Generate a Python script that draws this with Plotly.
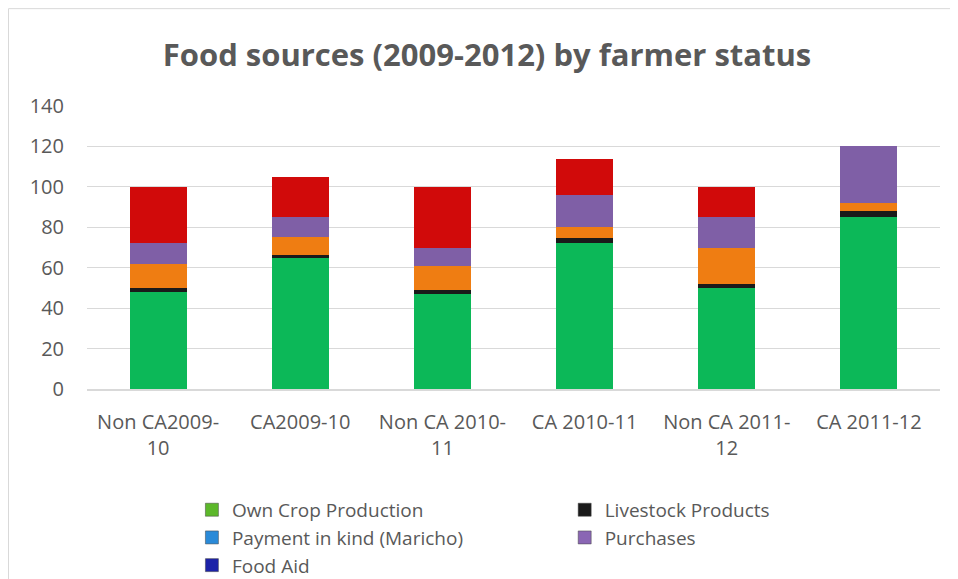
import plotly.graph_objects as go

categories = ["Non CA2009-<br>10", "CA2009-10", "Non CA 2010-<br>11", "CA 2010-11", "Non CA 2011-<br>12", "CA 2011-12"]
series_names = ["Own Crop Production", "Livestock Products", "Payment in kind (Maricho)", "Purchases", "Food Aid"]
own_crop = [48, 65, 47, 72, 50, 85]
livestock = [2, 1.5, 2, 2.5, 2, 3]
payment = [12, 8.5, 12, 5.5, 18, 4]
purchases = [10, 10, 9, 16, 15, 28]
food_aid = [28, 20, 30, 18, 15, 0]

values = [own_crop, livestock, payment, purchases, food_aid]
bar_colors = ["#0cb858", "#1a1a1a", "#ef7d12", "#7f5fa6", "#d10a0a"]
legend_colors = ["#5cb82a", "#1a1a1a", "#2a8ad8", "#8a66b4", "#1c22a8"]
legend_ids = ["legend", "legend2", "legend", "legend2", "legend"]

fig = go.Figure()
for name, vals, c in zip(series_names, values, bar_colors):
    fig.add_trace(go.Bar(x=categories, y=vals, name=name, showlegend=False,
                         marker=dict(color=c, line=dict(width=0)),
                         width=0.4))
for name, c, lg in zip(series_names, legend_colors, legend_ids):
    fig.add_trace(go.Scatter(x=[None], y=[None], mode="markers", name=name,
                             legend=lg,
                             marker=dict(symbol="square", size=13, color=c,
                                         line=dict(color="#444", width=0.5))))

legend_common = dict(orientation="v", yanchor="top", traceorder="normal",
                     font=dict(size=19, color="#595959", family="Open Sans"),
                     itemwidth=30, bgcolor="rgba(0,0,0,0)", tracegroupgap=0)

fig.update_layout(
    width=958, height=579,
    barmode="stack",
    plot_bgcolor="white", paper_bgcolor="white",
    margin=dict(l=79, r=26, t=98, b=198, autoexpand=False),
    font=dict(family="Open Sans", color="#595959", size=20),
    title=dict(text="<b>Food sources (2009-2012) by farmer status</b>",
               x=0.5, xanchor="center", y=0.919, yanchor="middle",
               font=dict(size=31, color="#595959", family="Open Sans")),
    xaxis=dict(showgrid=False, showline=True, linecolor="#d9d9d9", linewidth=2,
               tickfont=dict(size=20, color="#595959"), ticks="", automargin=False,
               ticklabelstandoff=14),
    yaxis=dict(range=[0, 140], dtick=20, showgrid=True, gridcolor="#d9d9d9",
               gridwidth=1, zeroline=False, ticks="", automargin=False,
               tickfont=dict(size=20, color="#595959"), ticklabelstandoff=22),
    legend=dict(x=0.123, y=-0.36, **legend_common),
    legend2=dict(x=0.560, y=-0.36, **legend_common),
    shapes=[dict(type="rect", xref="paper", yref="paper",
                 x0=-0.092, x1=1.1, y0=-1.0, y1=1.344,
                 line=dict(color="#d9d9d9", width=1), layer="below")],
)

fig.write_html("out.html")
